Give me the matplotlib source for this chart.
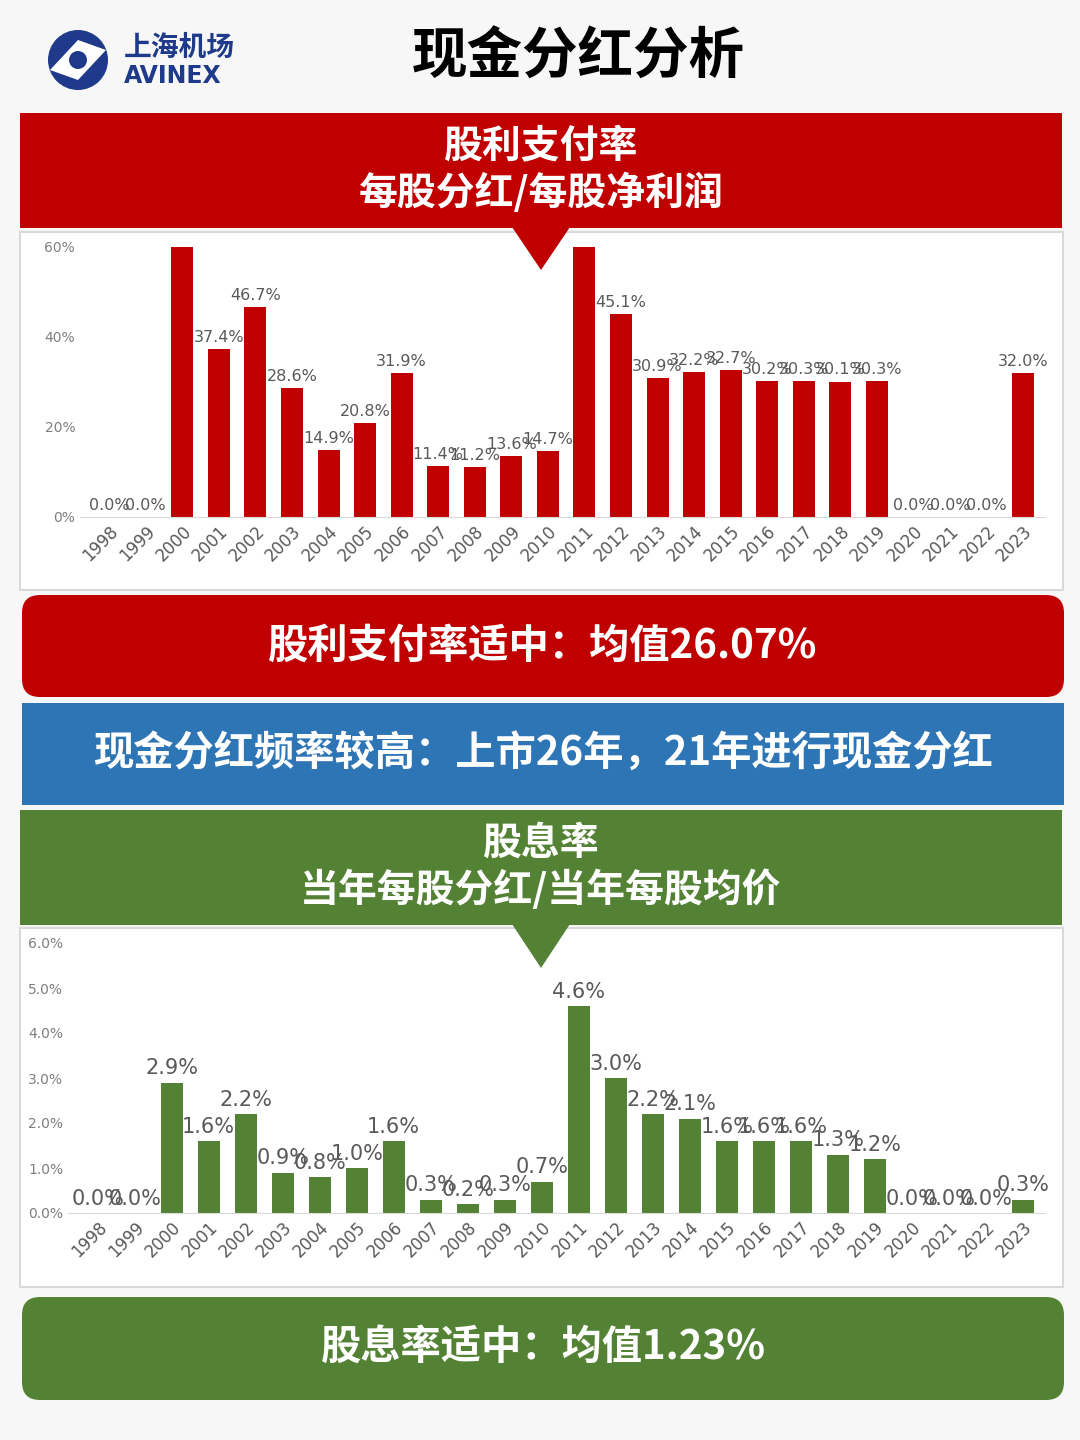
import matplotlib.pyplot as plt
from matplotlib.patches import Rectangle, Polygon, FancyBboxPatch, Circle

plt.rcParams['font.family'] = ['Noto Sans CJK SC', 'DejaVu Sans']

years = [str(y) for y in range(1998, 2024)]
payout = [0.0, 0.0, 76.4, 37.4, 46.7, 28.6, 14.9, 20.8, 31.9, 11.4, 11.2, 13.6, 14.7,
          76.4, 45.1, 30.9, 32.2, 32.7, 30.2, 30.3, 30.1, 30.3, 0.0, 0.0, 0.0, 32.0]
dividend_yield = [0.0, 0.0, 2.9, 1.6, 2.2, 0.9, 0.8, 1.0, 1.6, 0.3, 0.2, 0.3, 0.7,
                  4.6, 3.0, 2.2, 2.1, 1.6, 1.6, 1.6, 1.3, 1.2, 0.0, 0.0, 0.0, 0.3]

W, H = 1080, 1440
RED, BLUE, GREEN = '#c00000', '#2e75b6', '#548235'

fig = plt.figure(figsize=(10.8, 14.4), dpi=100)
fig.patch.set_facecolor('#f7f7f7')


def rect(x0, y0, x1, y1):
    return [x0 / W, 1 - y1 / H, (x1 - x0) / W, (y1 - y0) / H]


# panel backgrounds
bg = fig.add_axes([0, 0, 1, 1], zorder=0)
bg.set_xlim(0, W); bg.set_ylim(H, 0); bg.axis('off')
for y0, y1 in [(232, 590), (928, 1287)]:
    bg.add_patch(Rectangle((20, y0), 1043, y1 - y0, fc='white', ec='#d9d9d9', lw=1.5))


def bar_chart(box, vals, ymax, step, color, tickfmt, lsize):
    ax = fig.add_axes(rect(*box), zorder=1)
    ax.set_facecolor('none')
    x = range(len(vals))
    ax.bar(x, vals, width=0.6, color=color)
    ax.set_ylim(0, ymax)
    ax.set_xlim(-0.8, len(vals) - 0.4)
    for i, v in enumerate(vals):
        if v <= ymax * 0.95:
            ax.text(i, v + ymax * 0.015, '{:.1f}%'.format(v), ha='center', va='bottom',
                    fontsize=lsize, color='#595959', family=['DejaVu Sans'])
    ticks = [step * k for k in range(int(round(ymax / step)) + 1)]
    ax.set_yticks(ticks)
    ax.set_yticklabels([tickfmt.format(t) for t in ticks], color='#7f7f7f', fontsize=10,
                       family=['DejaVu Sans'])
    ax.set_xticks(list(x))
    ax.set_xticklabels(years, rotation=45, ha='right', rotation_mode='anchor',
                       color='#595959', fontsize=12, family=['DejaVu Sans'])
    for s in ['top', 'right', 'left']:
        ax.spines[s].set_visible(False)
    ax.spines['bottom'].set_color('#d9d9d9')
    ax.tick_params(length=0)
    return ax


bar_chart((80, 247, 1045, 517), payout, 60, 20, RED, '{:.0f}%', 11.5)
bar_chart((68, 943, 1045, 1213), dividend_yield, 6.0, 1.0, GREEN, '{:.1f}%', 15)

ov = fig.add_axes([0, 0, 1, 1], zorder=5)
ov.set_facecolor('none')
ov.set_xlim(0, W); ov.set_ylim(H, 0); ov.axis('off')

# header
ov.text(578, 58, '现金分红分析', ha='center', va='center', fontsize=40, fontweight='bold')
ov.add_patch(Circle((78, 60), 30, fc='#1f3a8a', ec='none'))
ov.add_patch(Polygon([(50, 70), (78, 40), (106, 50), (78, 80)], fc='white', ec='none'))
ov.add_patch(Circle((78, 60), 9, fc='#1f3a8a', ec='none'))
ov.text(124, 48, '上海机场', ha='left', va='center', fontsize=20, fontweight='bold', color='#1f3a8a')
ov.text(124, 76, 'AVINEX', ha='left', va='center', fontsize=17, fontweight='bold', color='#1f3a8a',
        family=['DejaVu Sans'])

# red banner
ov.add_patch(Rectangle((20, 113), 1042, 115, fc=RED, ec='none'))
ov.add_patch(Polygon([(512, 227), (570, 227), (541, 270)], fc=RED, ec='none'))
ov.text(541, 146, '股利支付率', ha='center', va='center', fontsize=28, fontweight='bold', color='white')
ov.text(541, 193, '每股分红/每股净利润', ha='center', va='center', fontsize=28, fontweight='bold', color='white')

ov.add_patch(FancyBboxPatch((22, 595), 1042, 102, boxstyle='round,pad=0,rounding_size=18',
                            fc=RED, ec='none'))
ov.text(543, 646, '股利支付率适中：均值26.07%', ha='center', va='center', fontsize=29,
        fontweight='bold', color='white')

ov.add_patch(Rectangle((22, 703), 1042, 102, fc=BLUE, ec='none'))
ov.text(543, 754, '现金分红频率较高：上市26年，21年进行现金分红', ha='center', va='center', fontsize=29,
        fontweight='bold', color='white')

# green banner
ov.add_patch(Rectangle((20, 810), 1042, 115, fc=GREEN, ec='none'))
ov.add_patch(Polygon([(512, 924), (570, 924), (541, 968)], fc=GREEN, ec='none'))
ov.text(541, 843, '股息率', ha='center', va='center', fontsize=28, fontweight='bold', color='white')
ov.text(541, 890, '当年每股分红/当年每股均价', ha='center', va='center', fontsize=28, fontweight='bold', color='white')

ov.add_patch(FancyBboxPatch((22, 1297), 1042, 103, boxstyle='round,pad=0,rounding_size=18',
                            fc=GREEN, ec='none'))
ov.text(543, 1347, '股息率适中：均值1.23%', ha='center', va='center', fontsize=29,
        fontweight='bold', color='white')

fig.savefig('out.png', dpi=100, facecolor=fig.get_facecolor())
